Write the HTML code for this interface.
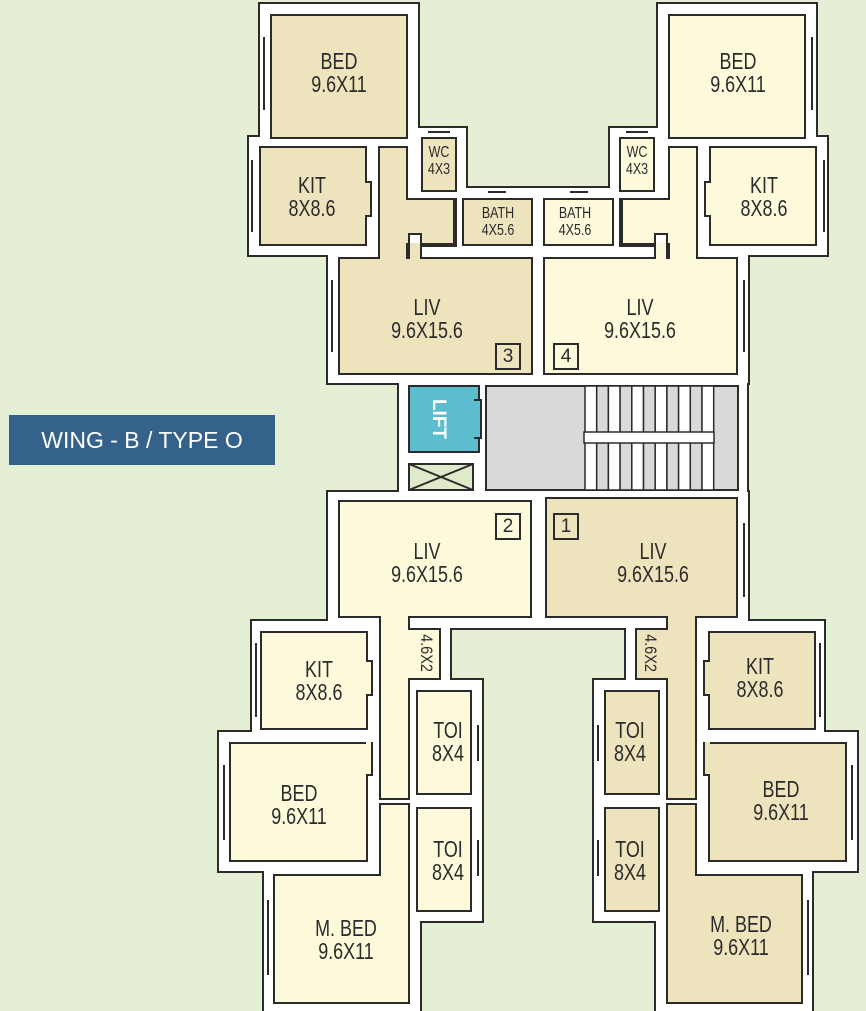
<!DOCTYPE html>
<html><head><meta charset="utf-8">
<style>
html,body{margin:0;padding:0}
body{width:866px;height:997px;background:#e4efd6;position:relative;overflow:hidden;font-family:"Liberation Sans",sans-serif}
#walls{position:absolute;left:0;top:0;width:866px;height:997px;filter:drop-shadow(2px 0 0 #2b2b2b) drop-shadow(-2px 0 0 #2b2b2b) drop-shadow(0 2px 0 #2b2b2b) drop-shadow(0 -2px 0 #2b2b2b)}
#walls div{position:absolute;background:#fff}
.r{position:absolute;border:2px solid #2b2b2b;box-sizing:border-box}
.p{position:absolute}
.T{background:#ede3bd}
.L{background:#fdf9db}
.w{position:absolute;background:#fff;border:2px solid #2b2b2b;box-sizing:border-box}
.ln{position:absolute;background:#2b2b2b}
.t{position:absolute;width:140px;text-align:center;color:#2b2b2b;font-size:23px;line-height:23px;transform:scaleX(0.78)}
.s{font-size:16px;line-height:17px;width:60px}
.n{position:absolute;border:2px solid #2b2b2b;box-sizing:border-box;width:26px;height:27px;text-align:center;font-size:19px;line-height:23px;color:#2b2b2b}
</style></head><body>

<div id="walls">
<div style="left:260px;top:4px;width:158px;height:140px"></div>
<div style="left:249px;top:137px;width:169px;height:118px"></div>
<div style="left:410px;top:128px;width:56px;height:70px"></div>
<div style="left:457px;top:188px;width:86px;height:67px"></div>
<div style="left:328px;top:247px;width:215px;height:136px"></div>
<div style="left:658px;top:4px;width:158px;height:140px"></div>
<div style="left:658px;top:137px;width:169px;height:118px"></div>
<div style="left:610px;top:128px;width:56px;height:70px"></div>
<div style="left:533px;top:188px;width:86px;height:67px"></div>
<div style="left:533px;top:247px;width:215px;height:136px"></div>
<div style="left:399px;top:377px;width:348px;height:118px"></div>
<div style="left:328px;top:492px;width:420px;height:136px"></div>
<div style="left:252px;top:621px;width:125px;height:111px"></div>
<div style="left:219px;top:732px;width:158px;height:139px"></div>
<div style="left:264px;top:871px;width:156px;height:140px"></div>
<div style="left:372px;top:621px;width:48px;height:390px"></div>
<div style="left:412px;top:680px;width:70px;height:241px"></div>
<div style="left:407px;top:620px;width:43px;height:62px"></div>
<div style="left:699px;top:621px;width:125px;height:111px"></div>
<div style="left:699px;top:732px;width:158px;height:139px"></div>
<div style="left:656px;top:871px;width:156px;height:140px"></div>
<div style="left:656px;top:621px;width:48px;height:390px"></div>
<div style="left:594px;top:680px;width:70px;height:241px"></div>
<div style="left:626px;top:620px;width:43px;height:62px"></div>
</div>

<!-- TOP LEFT -->
<div class="r T" style="left:270px;top:14px;width:138px;height:125px"></div>
<div class="r T" style="left:259px;top:146px;width:108px;height:100px"></div>
<div class="r T" style="left:365px;top:181px;width:7px;height:36px;border-left:none"></div>
<div class="r T" style="left:378px;top:146px;width:30px;height:113px"></div>
<div class="r T" style="left:378px;top:198px;width:77px;height:47px"></div>
<div class="r T" style="left:338px;top:257px;width:195px;height:118px"></div>
<div class="p T" style="left:380px;top:148px;width:26px;height:112px"></div>
<div class="p T" style="left:380px;top:200px;width:73px;height:43px"></div>
<div class="w" style="left:408px;top:233px;width:14px;height:26px;border-bottom:none"></div>
<div class="p T" style="left:410px;top:243px;width:10px;height:16px"></div>
<div class="r T" style="left:421px;top:137px;width:36px;height:55px"></div>
<div class="r T" style="left:462px;top:198px;width:71px;height:48px"></div>
<div class="n T" style="left:495px;top:343px">3</div>

<!-- TOP RIGHT -->
<div class="r L" style="left:668px;top:14px;width:138px;height:125px"></div>
<div class="r L" style="left:709px;top:146px;width:108px;height:100px"></div>
<div class="r L" style="left:704px;top:181px;width:7px;height:36px;border-right:none"></div>
<div class="r L" style="left:668px;top:146px;width:30px;height:113px"></div>
<div class="r L" style="left:621px;top:198px;width:77px;height:47px"></div>
<div class="r L" style="left:543px;top:257px;width:195px;height:118px"></div>
<div class="p L" style="left:670px;top:148px;width:26px;height:112px"></div>
<div class="p L" style="left:623px;top:200px;width:73px;height:43px"></div>
<div class="w" style="left:654px;top:233px;width:14px;height:26px;border-bottom:none"></div>
<div class="p L" style="left:656px;top:243px;width:10px;height:16px"></div>
<div class="r L" style="left:619px;top:137px;width:36px;height:55px"></div>
<div class="r L" style="left:543px;top:198px;width:71px;height:48px"></div>
<div class="n L" style="left:553px;top:343px">4</div>

<!-- MIDDLE -->
<div class="r" style="left:408px;top:385px;width:72px;height:68px;background:#5bbdcd"></div>
<div class="r" style="left:474px;top:399px;width:8px;height:40px;background:#5bbdcd;border-left:none"></div>
<div class="p" style="left:412px;top:404px;width:52px;height:30px;color:#fff;font-weight:bold;font-size:19px;line-height:30px;text-align:center;transform:rotate(90deg)">LIFT</div>
<svg class="p" style="left:408px;top:463px" width="66" height="28"><rect x="1" y="1" width="64" height="26" fill="#dfeacb" stroke="#2b2b2b" stroke-width="2"/><line x1="1" y1="1" x2="65" y2="27" stroke="#2b2b2b" stroke-width="2"/><line x1="65" y1="1" x2="1" y2="27" stroke="#2b2b2b" stroke-width="2"/></svg>
<svg class="p" style="left:485px;top:385px" width="254" height="106">
<rect x="1" y="1" width="252" height="104" fill="#d8d9d8" stroke="#2b2b2b" stroke-width="2"/>
<g stroke="#2b2b2b" stroke-width="1.5">
<rect x="100" y="1" width="11.7" height="104" fill="#fff"/>
<rect x="111.7" y="1" width="11.7" height="104" fill="#d8d9d8"/>
<rect x="123.4" y="1" width="11.7" height="104" fill="#fff"/>
<rect x="135.1" y="1" width="11.7" height="104" fill="#d8d9d8"/>
<rect x="146.8" y="1" width="11.7" height="104" fill="#fff"/>
<rect x="158.5" y="1" width="11.7" height="104" fill="#d8d9d8"/>
<rect x="170.2" y="1" width="11.7" height="104" fill="#fff"/>
<rect x="181.9" y="1" width="11.7" height="104" fill="#d8d9d8"/>
<rect x="193.6" y="1" width="11.7" height="104" fill="#fff"/>
<rect x="205.3" y="1" width="11.7" height="104" fill="#d8d9d8"/>
<rect x="217" y="1" width="11.7" height="104" fill="#fff"/>
<rect x="99" y="47" width="130" height="11" fill="#fff"/>
</g></svg>

<!-- bottom LIVs -->
<div class="r L" style="left:338px;top:500px;width:194px;height:118px"></div>
<div class="r T" style="left:545px;top:497px;width:193px;height:121px"></div>
<div class="n L" style="left:495px;top:513px">2</div>
<div class="n T" style="left:553px;top:513px">1</div>

<!-- BOTTOM LEFT -->
<div class="r L" style="left:379px;top:616px;width:31px;height:184px"></div>
<div class="p L" style="left:381px;top:612px;width:27px;height:10px"></div>
<div class="r L" style="left:410px;top:628px;width:31px;height:52px"></div>
<div class="p L" style="left:407px;top:630px;width:6px;height:48px"></div>
<div class="r L" style="left:260px;top:631px;width:108px;height:99px"></div>
<div class="r L" style="left:366px;top:660px;width:7px;height:36px;border-left:none"></div>
<div class="r L" style="left:229px;top:742px;width:139px;height:120px"></div>
<div class="r L" style="left:366px;top:742px;width:7px;height:34px;border-left:none;border-top:none"></div>
<div class="p L" style="left:364px;top:744px;width:7px;height:30px"></div>
<div class="r L" style="left:379px;top:803px;width:31px;height:75px"></div>
<div class="r L" style="left:273px;top:874px;width:137px;height:130px"></div>
<div class="p L" style="left:381px;top:870px;width:27px;height:8px"></div>
<div class="r L" style="left:416px;top:690px;width:56px;height:105px"></div>
<div class="r L" style="left:416px;top:807px;width:56px;height:105px"></div>

<!-- BOTTOM RIGHT -->
<div class="r T" style="left:666px;top:616px;width:31px;height:184px"></div>
<div class="p T" style="left:668px;top:612px;width:27px;height:10px"></div>
<div class="r T" style="left:635px;top:628px;width:31px;height:52px"></div>
<div class="p T" style="left:663px;top:630px;width:6px;height:48px"></div>
<div class="r T" style="left:708px;top:631px;width:108px;height:99px"></div>
<div class="r T" style="left:703px;top:660px;width:7px;height:36px;border-right:none"></div>
<div class="r T" style="left:708px;top:742px;width:139px;height:120px"></div>
<div class="r T" style="left:703px;top:742px;width:7px;height:34px;border-right:none;border-top:none"></div>
<div class="p T" style="left:705px;top:744px;width:7px;height:30px"></div>
<div class="r T" style="left:666px;top:803px;width:31px;height:75px"></div>
<div class="r T" style="left:666px;top:874px;width:137px;height:130px"></div>
<div class="p T" style="left:668px;top:870px;width:27px;height:8px"></div>
<div class="r T" style="left:604px;top:690px;width:56px;height:105px"></div>
<div class="r T" style="left:604px;top:807px;width:56px;height:105px"></div>

<!-- window lines -->
<div class="ln" style="left:263px;top:37px;width:2px;height:73px"></div>
<div class="ln" style="left:251px;top:160px;width:2px;height:72px"></div>
<div class="ln" style="left:331px;top:280px;width:2px;height:72px"></div>
<div class="ln" style="left:428px;top:131px;width:22px;height:2px"></div>
<div class="ln" style="left:488px;top:191px;width:18px;height:2px"></div>
<div class="ln" style="left:811px;top:37px;width:2px;height:73px"></div>
<div class="ln" style="left:823px;top:160px;width:2px;height:72px"></div>
<div class="ln" style="left:743px;top:280px;width:2px;height:72px"></div>
<div class="ln" style="left:626px;top:131px;width:22px;height:2px"></div>
<div class="ln" style="left:570px;top:191px;width:18px;height:2px"></div>
<div class="ln" style="left:743px;top:523px;width:2px;height:74px"></div>
<div class="ln" style="left:255px;top:643px;width:2px;height:74px"></div>
<div class="ln" style="left:223px;top:765px;width:2px;height:75px"></div>
<div class="ln" style="left:267px;top:900px;width:2px;height:75px"></div>
<div class="ln" style="left:477px;top:725px;width:2px;height:36px"></div>
<div class="ln" style="left:477px;top:840px;width:2px;height:36px"></div>
<div class="ln" style="left:819px;top:643px;width:2px;height:74px"></div>
<div class="ln" style="left:851px;top:765px;width:2px;height:75px"></div>
<div class="ln" style="left:807px;top:900px;width:2px;height:75px"></div>
<div class="ln" style="left:597px;top:725px;width:2px;height:36px"></div>
<div class="ln" style="left:597px;top:840px;width:2px;height:36px"></div>

<!-- labels -->
<div class="t" style="left:269px;top:50px">BED<br>9.6X11</div>
<div class="t" style="left:242px;top:174px">KIT<br>8X8.6</div>
<div class="t s" style="left:409px;top:144px">WC<br>4X3</div>
<div class="t s" style="left:468px;top:205px">BATH<br>4X5.6</div>
<div class="t" style="left:357px;top:296px">LIV<br>9.6X15.6</div>
<div class="t" style="left:668px;top:50px">BED<br>9.6X11</div>
<div class="t" style="left:694px;top:174px">KIT<br>8X8.6</div>
<div class="t s" style="left:607px;top:144px">WC<br>4X3</div>
<div class="t s" style="left:545px;top:205px">BATH<br>4X5.6</div>
<div class="t" style="left:570px;top:296px">LIV<br>9.6X15.6</div>
<div class="t" style="left:357px;top:540px">LIV<br>9.6X15.6</div>
<div class="t" style="left:583px;top:540px">LIV<br>9.6X15.6</div>
<div class="t" style="left:249px;top:658px">KIT<br>8X8.6</div>
<div class="t" style="left:229px;top:782px">BED<br>9.6X11</div>
<div class="t" style="left:276px;top:917px">M. BED<br>9.6X11</div>
<div class="t" style="left:378px;top:719px">TOI<br>8X4</div>
<div class="t" style="left:378px;top:838px">TOI<br>8X4</div>
<div class="t" style="left:690px;top:655px">KIT<br>8X8.6</div>
<div class="t" style="left:711px;top:778px">BED<br>9.6X11</div>
<div class="t" style="left:671px;top:913px">M. BED<br>9.6X11</div>
<div class="t" style="left:560px;top:719px">TOI<br>8X4</div>
<div class="t" style="left:560px;top:838px">TOI<br>8X4</div>
<div class="p" style="left:401px;top:644px;width:50px;height:18px;font-size:17px;line-height:18px;text-align:center;color:#2b2b2b;transform:rotate(90deg) scaleX(0.85)">4.6X2</div>
<div class="p" style="left:625px;top:644px;width:50px;height:18px;font-size:17px;line-height:18px;text-align:center;color:#2b2b2b;transform:rotate(90deg) scaleX(0.85)">4.6X2</div>

<div class="p" style="left:9px;top:415px;width:266px;height:50px;background:#35628a;color:#fff;font-size:23px;line-height:50px;text-align:center">WING - B / TYPE O</div>
</body></html>
